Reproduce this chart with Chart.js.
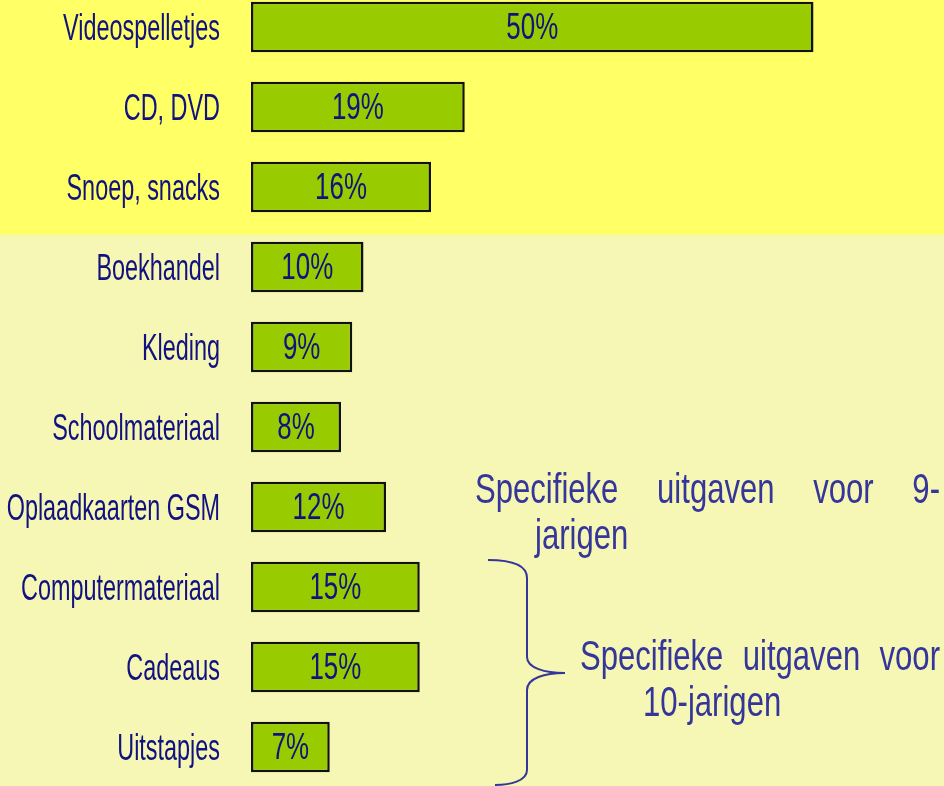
<!DOCTYPE html>
<html>
<head>
<meta charset="utf-8">
<script src="https://cdn.jsdelivr.net/npm/chart.js@4/dist/chart.umd.min.js"></script>
<style>
  html, body { margin: 0; padding: 0; overflow: hidden; background: #f7f7b5; }
  #wrap { position: absolute; left: 0; top: -13px; width: 944px; height: 800px; }
</style>
</head>
<body>
<div id="wrap"><canvas id="myChart" width="944" height="800"></canvas></div>
<script>
const categories = [
    'Videospelletjes',
    'CD, DVD',
    'Snoep, snacks',
    'Boekhandel',
    'Kleding',
    'Schoolmateriaal',
    'Oplaadkaarten GSM',
    'Computermateriaal',
    'Cadeaus',
    'Uitstapjes'
] /* categorieen op de y-as */
const percentages = [50, 19, 16, 10, 9, 8, 12, 15, 15, 7] /* uitgaven in % */
const note9 = ['Specifieke', 'uitgaven', 'voor', '9-']
const note9b = 'jarigen'
const note10 = ['Specifieke', 'uitgaven', 'voor']
const note10b = '10-jarigen'

const NAVY = '#10127f';
const NOTE = '#35369a';
const FONT = '"Liberation Sans", Arimo, Arial, sans-serif';

// tekst horizontaal samengedrukt, zoals het smalle lettertype van het origineel
function narrowText(ctx, txt, x, y, size, sx, align) {
    ctx.save();
    ctx.font = size + 'px ' + FONT;
    ctx.textAlign = align || 'left';
    ctx.translate(x, y);
    ctx.scale(sx, 1);
    ctx.fillText(txt, 0, 0);
    ctx.restore();
}
function narrowWidth(ctx, txt, size, sx) {
    ctx.save();
    ctx.font = size + 'px ' + FONT;
    const w = ctx.measureText(txt).width * sx;
    ctx.restore();
    return w;
}
// woorden uitvullen over een regel van x0 tot x1
function justified(ctx, words, x0, x1, y, size, sx) {
    const widths = words.map(w => narrowWidth(ctx, w, size, sx));
    const total = widths.reduce((a, b) => a + b, 0);
    const gap = (x1 - x0 - total) / (words.length - 1);
    let x = x0;
    words.forEach((w, i) => {
        narrowText(ctx, w, x, y, size, sx);
        x += widths[i] + gap;
    });
}

const backgroundPlugin = {
    id: 'bands',
    beforeDraw(chart) {
        const ctx = chart.ctx;
        const y = chart.scales.y;
        const split = (y.getPixelForValue(2) + y.getPixelForValue(3)) / 2 + 8;
        ctx.save();
        ctx.fillStyle = '#f7f7b5';
        ctx.fillRect(0, 0, chart.width, chart.height);
        ctx.fillStyle = '#ffff66';
        ctx.fillRect(0, 0, chart.width, split);
        ctx.restore();
    }
};

const labelPlugin = {
    id: 'values',
    afterDatasetsDraw(chart) {
        const ctx = chart.ctx;
        const yScale = chart.scales.y;
        ctx.save();
        ctx.fillStyle = NAVY;
        ctx.textBaseline = 'middle';
        // categorie labels op de posities van de y-as
        yScale.ticks.forEach((t, i) => {
            const py = yScale.getPixelForTick(i);
            narrowText(ctx, yScale.getLabelForValue(t.value), 220, py + 3, 36, 0.65, 'right');
        });
        // percentages midden in de balken
        const meta = chart.getDatasetMeta(0);
        meta.data.forEach((bar, i) => {
            const txt = percentages[i] + '%';
            const cx = (bar.base + bar.x) / 2;
            narrowText(ctx, txt, cx, bar.y + 2, 37, 0.7, 'center');
        });
        ctx.restore();
    },
    afterDraw(chart) {
        const ctx = chart.ctx;
        const off = 13; // canvas staat 13px boven de pagina
        ctx.save();
        ctx.fillStyle = NOTE;
        ctx.textBaseline = 'alphabetic';
        justified(ctx, note9, 475, 940, 503 + off, 42, 0.74);
        narrowText(ctx, note9b, 535, 549 + off, 42, 0.74);
        justified(ctx, note10, 580, 940, 670 + off, 42, 0.74);
        narrowText(ctx, note10b, 643, 716 + off, 42, 0.74);

        // accolade
        ctx.strokeStyle = NOTE;
        ctx.lineWidth = 2;
        ctx.beginPath();
        ctx.moveTo(488, 560 + off);
        ctx.bezierCurveTo(505, 560 + off, 527, 563 + off, 527, 578 + off);
        ctx.lineTo(527, 657 + off);
        ctx.bezierCurveTo(527, 668 + off, 545, 673 + off, 565, 673 + off);
        ctx.bezierCurveTo(545, 673 + off, 527, 678 + off, 527, 690 + off);
        ctx.lineTo(527, 770 + off);
        ctx.bezierCurveTo(527, 781 + off, 510, 785 + off, 495, 785 + off);
        ctx.stroke();
        ctx.restore();
    }
};

const data = {
    labels: categories,
    datasets: [{
        label: 'Uitgaven',
        data: percentages,
        backgroundColor: '#99cc00',
        borderColor: '#111111',
        borderWidth: 2.5,
        borderSkipped: false,
        barPercentage: 0.63,
        categoryPercentage: 1
    }]
};

const config = {
    type: 'bar',
    data: data,
    options: {
        indexAxis: 'y',
        responsive: false,
        devicePixelRatio: 1,
        animation: false,
        layout: { padding: 0 },
        plugins: {
            legend: { display: false },
            tooltip: { enabled: false }
        },
        scales: {
            x: {
                display: false,
                min: 0,
                max: 61.6
            },
            y: {
                grid: { display: false },
                border: { display: false },
                afterFit(scale) { scale.width = 251; },
                ticks: { display: false, padding: 0 }
            }
        }
    },
    plugins: [backgroundPlugin, labelPlugin]
};

const myChart = new Chart(
    document.getElementById('myChart'),
    config
);
</script>
</body>
</html>
